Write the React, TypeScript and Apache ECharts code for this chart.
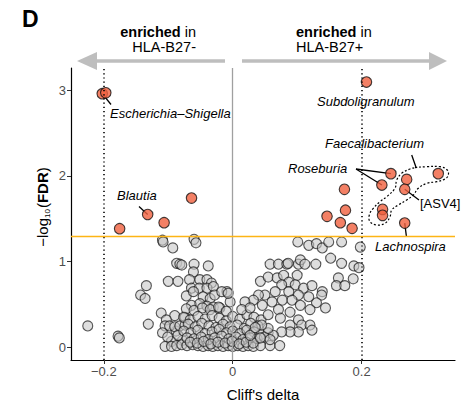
import React, { useEffect, useRef } from "react";
import * as echarts from "echarts";

const FONT = "'Liberation Sans', Arial, Helvetica, sans-serif";

const xTicks = [-0.2, 0, 0.2];
const yTicks = [0, 1, 2, 3];
const fdrThreshold = 1.3;
const deltaThresholds = [-0.2, 0.2];

// Non-significant taxa: [Cliff's delta, -log10(FDR)]
const greyPoints: [number, number][] = [
  [-0.225, 0.25], [-0.178, 0.13], [-0.176, 0.11], [-0.131, 0.27], [-0.134, 0.72], [-0.143, 0.61], [-0.136, 0.57],
  [-0.109, 1.25], [-0.108, 1.23], [-0.093, 1.16], [-0.087, 0.98], [-0.082, 0.97], [-0.079, 0.96], [-0.1, 0.77],
  [-0.085, 0.77], [-0.111, 0.4], [-0.09, 0.37], [-0.074, 0.35], [-0.06, 1.26], [-0.057, 1.22], [-0.06, 0.97],
  [-0.038, 0.95], [-0.061, 0.88], [-0.067, 0.79], [-0.051, 0.79], [-0.04, 0.79], [-0.033, 0.75], [-0.064, 0.69],
  [-0.052, 0.69], [-0.04, 0.69], [-0.03, 0.71], [-0.072, 0.6], [-0.061, 0.65], [-0.046, 0.59], [-0.035, 0.57],
  [-0.028, 0.61], [-0.064, 0.49], [-0.051, 0.51], [-0.04, 0.48], [-0.03, 0.47], [-0.02, 0.46], [-0.009, 0.65],
  [-0.004, 0.53], [-0.017, 0.65], [-0.007, 0.63], [-0.103, 0.32], [-0.088, 0.19], [-0.078, 0.08], [-0.095, 0.07],
  [-0.105, 0.25], [-0.098, 0.25], [-0.09, 0.24], [-0.082, 0.25], [-0.074, 0.26], [-0.109, 0.17], [-0.101, 0.12],
  [-0.085, 0.14],
  [-0.105, 0.01], [-0.095, 0.01], [-0.087, 0.02], [-0.079, 0.03], [-0.071, 0.02], [-0.062, 0.03], [-0.054, 0.02],
  [-0.046, 0.01], [-0.038, 0.02], [-0.031, 0.01], [-0.023, 0.02], [-0.015, 0.01], [-0.007, 0.02], [0.0, 0.01],
  [0.008, 0.02], [0.016, 0.01], [0.024, 0.02], [0.032, 0.01], [0.043, 0.02], [0.058, 0.02], [0.073, 0.02],
  [-0.072, 0.45], [-0.06, 0.43], [-0.047, 0.46], [-0.035, 0.44], [-0.022, 0.47], [-0.01, 0.42],
  [-0.076, 0.35], [-0.066, 0.32], [-0.054, 0.36], [-0.043, 0.33], [-0.032, 0.37], [-0.021, 0.34], [-0.01, 0.31],
  [0.0, 0.36], [0.011, 0.33], [0.022, 0.38], [0.033, 0.35], [0.044, 0.32],
  [-0.069, 0.27], [-0.058, 0.24], [-0.048, 0.28], [-0.037, 0.25], [-0.026, 0.23], [-0.015, 0.27], [-0.004, 0.24],
  [0.007, 0.26], [0.018, 0.22], [0.028, 0.28], [0.039, 0.25],
  [-0.076, 0.19], [-0.065, 0.17], [-0.054, 0.2], [-0.043, 0.16], [-0.032, 0.18], [-0.021, 0.21], [-0.01, 0.17],
  [0.0, 0.19], [0.011, 0.16], [0.022, 0.2], [0.033, 0.18], [0.044, 0.15], [0.055, 0.17],
  [-0.071, 0.11], [-0.06, 0.1], [-0.049, 0.12], [-0.038, 0.09], [-0.028, 0.11], [-0.017, 0.13], [-0.006, 0.1],
  [0.005, 0.12], [0.016, 0.09], [0.027, 0.11], [0.038, 0.1], [0.049, 0.12],
  [-0.066, 0.06], [-0.055, 0.05], [-0.045, 0.07], [-0.034, 0.04], [-0.023, 0.06], [-0.012, 0.05], [-0.001, 0.07],
  [0.01, 0.04], [0.021, 0.06], [0.032, 0.05],
  [0.101, 1.23], [0.118, 1.19], [0.13, 1.21], [0.139, 1.16], [0.149, 1.23], [0.169, 1.23], [0.198, 1.17],
  [0.152, 1.04], [0.169, 0.98], [0.188, 0.95], [0.196, 0.93], [0.058, 0.97], [0.071, 0.97], [0.084, 0.97],
  [0.086, 0.98], [0.102, 0.97], [0.105, 1.02], [0.112, 0.97], [0.129, 0.97], [0.164, 0.81], [0.187, 0.8],
  [0.161, 0.72], [0.174, 0.72],
  [0.043, 0.77], [0.055, 0.82], [0.069, 0.81], [0.079, 0.84], [0.1, 0.84], [0.087, 0.76], [0.076, 0.73],
  [0.097, 0.73], [0.11, 0.69], [0.123, 0.72], [0.139, 0.65], [0.138, 0.61], [0.13, 0.52], [0.144, 0.46],
  [0.118, 0.59], [0.102, 0.61], [0.087, 0.65], [0.066, 0.65], [0.05, 0.61], [0.04, 0.61], [0.032, 0.55],
  [0.019, 0.53], [0.014, 0.44], [0.027, 0.46], [0.046, 0.49], [0.061, 0.53], [0.077, 0.55], [0.092, 0.55],
  [0.105, 0.49], [0.12, 0.44], [0.089, 0.41], [0.071, 0.44], [0.055, 0.38], [0.074, 0.34],
  [0.089, 0.26], [0.102, 0.32], [0.107, 0.26], [0.12, 0.26], [0.123, 0.2], [0.102, 0.18], [0.089, 0.18],
  [0.076, 0.18], [0.063, 0.14], [0.055, 0.22], [0.045, 0.26], [0.043, 0.11], [0.058, 0.09], [0.027, 0.14],
  [0.035, 0.23],
];

// Significant taxa
const redPoints: [number, number][] = [
  [-0.2025, 2.96], [-0.197, 2.97], [-0.132, 1.55], [-0.1755, 1.385], [-0.1065, 1.455], [-0.0639, 1.742],
  [0.2076, 3.096], [0.2455, 2.027], [0.2315, 1.894], [0.27, 1.96], [0.319, 2.027], [0.267, 1.844],
  [0.1734, 1.844], [0.175, 1.6], [0.1464, 1.529], [0.167, 1.455], [0.1853, 1.389], [0.2326, 1.61],
  [0.2326, 1.54], [0.267, 1.45],
];

// Annotation anchor points (taxa they label)
const escherichiaPt: [number, number] = [-0.2025, 2.96];
const blautiaPt: [number, number] = [-0.132, 1.55];
const roseburiaPts: [number, number][] = [[0.2455, 2.027], [0.2315, 1.894]];
const asv4Pt: [number, number] = [0.267, 1.844];
const lachnospiraPt: [number, number] = [0.267, 1.45];

const fmt = (v: number) => (v < 0 ? "\u2212" + Math.abs(v) : String(v));

export default function App() {
  const ref = useRef<HTMLDivElement>(null);
  useEffect(() => {
    document.body.style.margin = "0";
    if (!ref.current) return;
    const chart = echarts.init(ref.current, undefined, { renderer: "svg" });
    chart.setOption({
      animation: false,
      backgroundColor: "#ffffff",
      textStyle: { fontFamily: FONT },
      grid: { left: 71, right: 10, top: 68, bottom: 47 },
      xAxis: {
        type: "value",
        min: -0.251,
        max: 0.345,
        splitLine: { show: false },
        axisLine: { onZero: false, lineStyle: { color: "#000", width: 1.2 } },
        axisTick: { customValues: xTicks, length: 4, lineStyle: { color: "#333" } },
        axisLabel: { customValues: xTicks, formatter: fmt, color: "#4d4d4d", fontSize: 13, margin: 5, fontFamily: FONT },
        name: "Cliff's delta",
        nameLocation: "middle",
        nameGap: 27,
        nameTextStyle: { color: "#000", fontSize: 15, fontFamily: FONT },
      },
      yAxis: {
        type: "value",
        min: -0.148,
        max: 3.26,
        splitLine: { show: false },
        axisLine: { onZero: false, lineStyle: { color: "#000", width: 1.2 } },
        axisTick: { customValues: yTicks, length: 4, lineStyle: { color: "#333" } },
        axisLabel: { customValues: yTicks, color: "#4d4d4d", fontSize: 13, margin: 5, fontFamily: FONT },
      },
      series: [
        {
          type: "scatter",
          data: [],
          z: 1,
          silent: true,
          markLine: {
            silent: true,
            symbol: "none",
            label: { show: false },
            animation: false,
            data: [
              { xAxis: 0, lineStyle: { color: "#a0a0a0", width: 1.3, type: "solid" } },
              { xAxis: deltaThresholds[0], lineStyle: { color: "#000", width: 1.6, type: [1.2, 3] } },
              { xAxis: deltaThresholds[1], lineStyle: { color: "#000", width: 1.6, type: [1.2, 3] } },
              { yAxis: fdrThreshold, lineStyle: { color: "#FDB515", width: 1.3, type: "solid" } },
            ],
          },
        },
        {
          type: "scatter",
          data: greyPoints,
          z: 2,
          symbolSize: 10,
          itemStyle: { color: "rgba(200,200,200,0.74)", borderColor: "rgba(25,25,25,0.9)", borderWidth: 1.1 },
        },
        {
          type: "scatter",
          data: redPoints,
          z: 4,
          symbolSize: 10.5,
          itemStyle: { color: "#F0603F", borderColor: "#111", borderWidth: 1.1 },
        },
      ],
    });

    const p = (pt: [number, number]) => chart.convertToPixel({ gridIndex: 0 }, pt) as number[];
    const lineEl = (x1: number, y1: number, x2: number, y2: number) => ({
      type: "line",
      z: 3,
      shape: { x1, y1, x2, y2 },
      style: { stroke: "#000", lineWidth: 1.3 },
    });
    const label = (text: string, x: number, y: number, italic = true, align = "left") => ({
      type: "text",
      z: 5,
      x,
      y,
      style: {
        text,
        fill: "#000",
        font: `${italic ? "italic " : ""}13px ${FONT}`,
        align,
        verticalAlign: "middle",
      },
    });
    const e = p(escherichiaPt);
    const b = p(blautiaPt);
    const r1 = p(roseburiaPts[0]);
    const r2 = p(roseburiaPts[1]);
    const a4 = p(asv4Pt);
    const la = p(lachnospiraPt);
    const contour = [
      [415, 167.7], [426.7, 166.7], [440, 166.7], [447.3, 170], [448.3, 175], [445, 179], [436.7, 181.7],
      [426.7, 183.3], [418.3, 188.3], [413.3, 195], [406.7, 200], [398.3, 205], [391.7, 210], [390, 216.7],
      [385, 223.3], [376.7, 225], [370, 221.7], [369.3, 215], [373.3, 208.3], [380, 201.7], [386.7, 196.7],
      [395, 188.3], [396.7, 180], [401.7, 173.3], [410, 169],
    ];
    const headerRich = {
      b: { font: `bold 14.5px ${FONT}`, fill: "#000", lineHeight: 15 },
      n: { font: `14.5px ${FONT}`, fill: "#000", lineHeight: 15 },
    };
    chart.setOption({
      graphic: [
        { type: "text", x: 22, y: 19, style: { text: "D", font: `bold 23px ${FONT}`, fill: "#000", verticalAlign: "middle" } },
        { type: "rect", shape: { x: 94, y: 59.2, width: 131, height: 3.6 }, style: { fill: "#BEBEBE" } },
        { type: "polygon", shape: { points: [[77, 61], [97, 52], [97, 70]] }, style: { fill: "#BEBEBE" } },
        { type: "rect", shape: { x: 242, y: 59.2, width: 190, height: 3.6 }, style: { fill: "#BEBEBE" } },
        { type: "polygon", shape: { points: [[447, 61], [429, 52], [429, 70]] }, style: { fill: "#BEBEBE" } },
        {
          type: "text", x: 196, y: 39,
          style: {
            text: "{b|enriched}{n| in}\n{n|HLA-B27-}", align: "right", verticalAlign: "middle",
            rich: headerRich,
          },
        },
        {
          type: "text", x: 296, y: 39,
          style: {
            text: "{b|enriched}{n| in}\n{n|HLA-B27+}", align: "left", verticalAlign: "middle",
            rich: headerRich,
          },
        },
        {
          type: "text", x: 42, y: 207, rotation: Math.PI / 2,
          style: {
            text: "{n|\u2212log}{s|10}{n|(}{b|FDR}{n|)}", align: "center", verticalAlign: "middle",
            rich: {
              n: { font: `15px ${FONT}`, fill: "#000", lineHeight: 18, verticalAlign: "middle" },
              s: { font: `8px ${FONT}`, fill: "#000", lineHeight: 18, verticalAlign: "bottom", padding: [8, 1, 0, 0] },
              b: { font: `bold 15px ${FONT}`, fill: "#000", lineHeight: 18, verticalAlign: "middle" },
            },
          },
        },
        lineEl(e[0], e[1], 111, 104.5),
        label("Escherichia\u2013Shigella", 110, 113),
        lineEl(139, 206.5, b[0], b[1]),
        label("Blautia", 117, 195),
        label("Subdoligranulum", 317, 101),
        label("Faecalibacterium", 325, 143),
        lineEl(411.7, 155, 416, 167.3),
        label("Roseburia", 288, 168),
        lineEl(356, 169, r1[0], r1[1]),
        lineEl(356, 169, r2[0], r2[1]),
        label("[ASV4]", 420, 203, false),
        lineEl(a4[0], a4[1], 419, 200),
        label("Lachnospira", 375, 246),
        lineEl(la[0], la[1], 406.5, 237),
        {
          type: "polygon", z: 3,
          shape: { points: contour, smooth: 0.4 },
          style: { fill: "none", stroke: "#000", lineWidth: 1.2, lineDash: [2, 2] },
        },
      ],
    });
    return () => chart.dispose();
  }, []);
  return <div ref={ref} style={{ width: 465, height: 407 }} />;
}
